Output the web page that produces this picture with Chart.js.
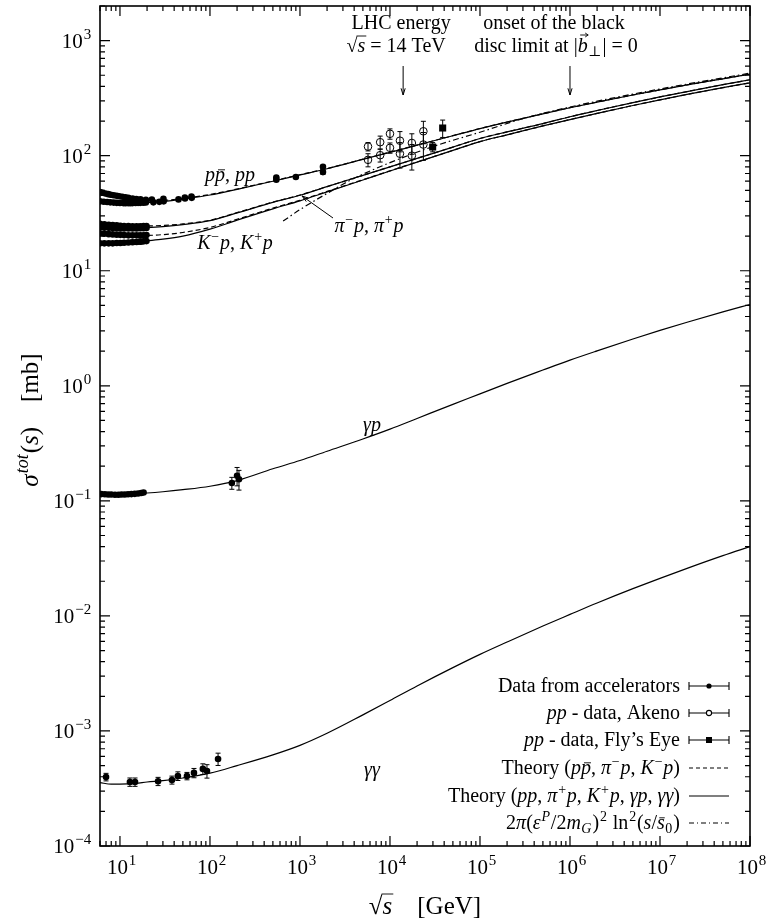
<!DOCTYPE html>
<html>
<head>
<meta charset="utf-8">
<script src="https://cdn.jsdelivr.net/npm/chart.js@4.4.1/dist/chart.umd.min.js"></script>
<style>
  html, body { margin: 0; padding: 0; background: #fff; }
</style>
</head>
<body>
<canvas id="chart" width="779" height="922"></canvas>
<script>
const energies = [6, 8, 10, 15, 20, 30, 50, 100, 200, 500, 1e3, 2e3, 5e3, 1e4, 2e4, 5e4, 1e5, 2e5, 5e5, 1e6, 2e6, 5e6, 1e7, 2e7, 5e7, 1e8];
const ppTheory      = [40, 39.5, 39, 38.8, 39, 40, 42, 45.5, 51, 60, 68, 77, 92.9, 107, 123.4, 149, 172, 196, 231, 261, 292, 337, 373, 412, 466, 511];
const ppbarTheory   = [48, 45.5, 43.5, 41.5, 41, 41, 42.5, 46, 51.3, 60.3, 68.3, 77.3, 93.2, 107.3, 123.7, 149.3, 172.3, 196.3, 231.3, 261.3, 292.3, 337.3, 373.3, 412.3, 466.3, 511.3];
const piMinusTheory = [25.5, 25, 24.8, 24.5, 24.5, 24.8, 25.5, 27.5, 32, 39.5, 45.5, 53.9, 67.5, 80, 94.8, 118.7, 141, 161, 190, 218, 247, 289, 324, 361, 414, 457];
const piPlusTheory  = [23.5, 23.5, 23.5, 23.5, 23.7, 24.2, 25.2, 27.3, 31.8, 39.3, 45.3, 53.9, 67.5, 80, 94.8, 118.7, 141, 161, 190, 218, 247, 289, 324, 361, 414, 457];
const kMinusTheory  = [21, 20.5, 20.5, 20.3, 20.3, 20.6, 21.5, 23.8, 28, 35, 41, 48.9, 61.8, 73.8, 88.1, 111.2, 132.7, 151.8, 181.3, 206, 233, 273, 305.6, 340.6, 390, 430];
const kPlusTheory   = [17.5, 17.5, 17.6, 17.8, 18.2, 18.8, 20, 23, 27.5, 34.5, 40.5, 48.5, 61.5, 73.6, 88, 111.2, 132.7, 151.8, 181.3, 206, 233, 273, 305.6, 340.6, 390, 430];
const gpTheory = [0.115, 0.1145, 0.114, 0.1155, 0.117, 0.12, 0.125, 0.134, 0.15, 0.19, 0.224, 0.27, 0.345, 0.42, 0.52, 0.69, 0.85, 1.05, 1.37, 1.67, 2.01, 2.55, 3.03, 3.57, 4.39, 5.09];
const ggTheory = [3.55e-4, 3.45e-4, 3.45e-4, 3.5e-4, 3.6e-4, 3.7e-4, 3.9e-4, 4.3e-4, 5.0e-4, 6.2e-4, 7.5e-4, 9.55e-4, 1.38e-3, 1.84e-3, 2.46e-3, 3.55e-3, 4.63e-3, 5.93e-3, 8.17e-3, 1.03e-2, 1.295e-2, 1.725e-2, 2.12e-2, 2.59e-2, 3.34e-2, 4.0e-2];

// black disc limit 2pi(eps/2m_G)^2 ln^2(s/s0)
const discEnergies = [650, 1e3, 2e3, 3.6e3, 1e4, 3e4, 1e5, 3e5, 1e6, 1e7, 1e8];
const discLimit    = [27, 34, 47, 61, 87, 120, 160, 210, 265, 380, 522];

// accelerator data
const ppbarDataX = [6.0, 6.4, 6.9, 7.4, 7.9, 8.5, 9.2, 9.8, 10.6, 11.5, 12.4, 13.8, 15.2, 16.9, 19.4, 22.6, 30.4, 52.6, 62.3];
const ppbarDataY = [48.2, 47.6, 46.9, 46.3, 45.8, 45.3, 44.8, 44.4, 43.9, 43.4, 43.0, 42.4, 42.0, 41.7, 41.4, 41.6, 42.1, 43.3, 44.1];
const ppDataX = [6.0, 6.6, 7.2, 7.8, 8.5, 9.2, 10.0, 10.9, 11.5, 12.3, 13.0, 13.8, 14.9, 15.9, 16.8, 18.2, 19.4, 23.5, 27.4, 30.6, 44.7, 52.8, 62.7];
const ppDataY = [40.1, 39.8, 39.6, 39.3, 39.1, 38.9, 38.8, 38.7, 38.6, 38.7, 38.6, 38.7, 38.8, 38.9, 38.9, 39.0, 39.2, 39.3, 39.7, 40.1, 41.7, 42.4, 43.0];
const colliderX = [546, 546, 900, 1800, 1800];
const colliderY = [61.9, 64.5, 65.3, 72.0, 80.0];
const colliderErr = [1.5, 2.0, 0.7, 3.3, 2.3];
const mesonDataX = [6.0, 6.7, 7.5, 8.3, 9.2, 10.1, 11.1, 12.4, 13.8, 15.3, 16.8, 18.3, 19.7];
const piMinusDataY = [25.6, 25.3, 25.1, 24.9, 24.8, 24.6, 24.5, 24.4, 24.3, 24.3, 24.3, 24.4, 24.4];
const piPlusDataY  = [23.9, 23.7, 23.6, 23.5, 23.4, 23.3, 23.3, 23.3, 23.3, 23.3, 23.4, 23.4, 23.5];
const kMinusDataY  = [21.2, 21.0, 20.8, 20.7, 20.6, 20.5, 20.4, 20.3, 20.3, 20.3, 20.3, 20.3, 20.4];
const kPlusDataY   = [17.3, 17.3, 17.3, 17.3, 17.4, 17.4, 17.5, 17.6, 17.7, 17.8, 17.9, 18.0, 18.1];
const kPlusDataErr = [0, 0, 0, 0, 0, 0, 0, 0, 0.8, 0, 0.9, 0, 0];
const gpDataX = [6.2, 6.8, 7.4, 8.0, 8.8, 9.6, 10.4, 11.3, 12.3, 13.4, 14.6, 15.9, 17.2, 18.3, 175, 200, 210];
const gpDataY = [0.1145, 0.114, 0.1135, 0.1135, 0.113, 0.113, 0.1135, 0.1135, 0.114, 0.1145, 0.115, 0.116, 0.117, 0.118, 0.143, 0.165, 0.154];
const gpDataErr = [0, 0, 0, 0, 0, 0, 0, 0, 0, 0, 0, 0, 0, 0, 0.017, 0.03, 0.03];
const ggDataX = [7.0, 12.9, 14.7, 26.5, 37.8, 44, 55.5, 66.4, 83.4, 92.6, 123];
const ggDataY = [3.98e-4, 3.6e-4, 3.6e-4, 3.65e-4, 3.75e-4, 4.06e-4, 4.06e-4, 4.32e-4, 4.68e-4, 4.49e-4, 5.71e-4];
const ggDataErr = [0.3e-4, 0.3e-4, 0.3e-4, 0.3e-4, 0.3e-4, 0.35e-4, 0.3e-4, 0.4e-4, 0.5e-4, 0.6e-4, 0.7e-4];

// cosmic ray pp data
const akenoX = [5700, 5700, 7780, 7780, 1e4, 1e4, 1.29e4, 1.29e4, 1.75e4, 1.75e4, 2.35e4, 2.35e4];
const akenoY = [120, 92, 131, 101, 155, 117, 135, 104, 129, 100, 163, 125];
const akenoErr = [10, 12, 17, 13, 16, 12, 27, 26, 26, 25, 36, 34];
const flysEyeX = [29800, 38500];
const flysEyeY = [119, 174];
const flysEyeErr = [11, 30];

const lhcEnergy = 14000;
const blackDiscOnset = 1e6;

const xDecades = [1, 2, 3, 4, 5, 6, 7, 8];
const yDecades = [-4, -3, -2, -1, 0, 1, 2, 3];

const SERIF = '"Liberation Serif", "DejaVu Serif", serif';

function pts(xs, ys, errs) {
  return xs.map((x, i) => ({ x: x, y: ys[i], err: errs ? errs[i] : 0 }));
}

function curve(xs, ys, dash) {
  return {
    data: pts(xs, ys),
    borderColor: '#000',
    borderWidth: 1.2,
    borderDash: dash || [],
    pointRadius: 0,
    fill: false,
    cubicInterpolationMode: 'monotone',
  };
}

function markers(xs, ys, errs, style) {
  const ds = {
    data: pts(xs, ys, errs),
    showLine: false,
    pointRadius: 3.3,
    pointStyle: 'circle',
    backgroundColor: '#000',
    borderColor: '#000',
    borderWidth: 0,
    errorBars: true,
  };
  if (style === 'open') {
    ds.backgroundColor = 'rgba(0,0,0,0)';
    ds.borderWidth = 1;
    ds.pointRadius = 3.8;
  }
  if (style === 'square') {
    ds.pointStyle = 'rect';
    ds.pointRadius = 5;
  }
  return ds;
}

// rich text: parts = [[text, style]] with style r, i, sup, isup, sub, isub, ibar, iover, ivec
function fontFor(style, size) {
  const ital = style.charAt(0) === 'i' ? 'italic ' : '';
  const small = /sup|sub/.test(style);
  return ital + (small ? Math.round(size * 0.7) : size) + 'px ' + SERIF;
}

function drawRich(ctx, parts, x, y, align, size) {
  ctx.save();
  ctx.textAlign = 'left';
  ctx.textBaseline = 'alphabetic';
  ctx.fillStyle = '#000';
  ctx.strokeStyle = '#000';
  ctx.lineWidth = 0.9;
  const widths = parts.map(p => {
    ctx.font = fontFor(p[1], size);
    const pad = /sup|sub/.test(p[1]) ? size * 0.08 : 0;
    return ctx.measureText(p[0]).width + pad;
  });
  const total = widths.reduce((a, b) => a + b, 0);
  let cx = align === 'right' ? x - total : align === 'center' ? x - total / 2 : x;
  parts.forEach((p, i) => {
    const s = p[1];
    ctx.font = fontFor(s, size);
    let dy = 0;
    let dx = 0;
    if (s.indexOf('sup') >= 0) { dy = -size * 0.42; dx = size * 0.04; }
    if (s.indexOf('sub') >= 0) { dy = size * 0.22; dx = size * 0.02; }
    ctx.fillText(p[0], cx + dx, y + dy);
    const w = widths[i];
    if (s === 'ibar') {
      ctx.beginPath();
      ctx.moveTo(cx + w * 0.3, y - size * 0.56);
      ctx.lineTo(cx + w * 1.0, y - size * 0.56);
      ctx.stroke();
    }
    if (s === 'iover') {
      ctx.beginPath();
      ctx.moveTo(cx - 1, y - size * 0.8);
      ctx.lineTo(cx + w + 1, y - size * 0.8);
      ctx.stroke();
    }
    if (s === 'ivec') {
      const ay = y - size * 0.85;
      ctx.beginPath();
      ctx.moveTo(cx + w * 0.25, ay);
      ctx.lineTo(cx + w * 1.05, ay);
      ctx.moveTo(cx + w * 1.05 - 3, ay - 2);
      ctx.lineTo(cx + w * 1.05, ay);
      ctx.lineTo(cx + w * 1.05 - 3, ay + 2);
      ctx.stroke();
    }
    cx += w;
  });
  ctx.restore();
}

function arrow(ctx, x1, y1, x2, y2) {
  const a = Math.atan2(y2 - y1, x2 - x1);
  ctx.save();
  ctx.strokeStyle = '#000';
  ctx.lineWidth = 1;
  ctx.beginPath();
  ctx.moveTo(x1, y1);
  ctx.lineTo(x2, y2);
  ctx.moveTo(x2 - 7 * Math.cos(a - 0.3), y2 - 7 * Math.sin(a - 0.3));
  ctx.lineTo(x2, y2);
  ctx.lineTo(x2 - 7 * Math.cos(a + 0.3), y2 - 7 * Math.sin(a + 0.3));
  ctx.stroke();
  ctx.restore();
}

const errorBarPlugin = {
  id: 'errorBars',
  afterDatasetsDraw(chart) {
    const ctx = chart.ctx;
    const ys = chart.scales.y;
    ctx.save();
    ctx.strokeStyle = '#000';
    ctx.lineWidth = 1;
    chart.data.datasets.forEach((ds, di) => {
      if (!ds.errorBars) return;
      const meta = chart.getDatasetMeta(di);
      ds.data.forEach((d, i) => {
        if (!d.err) return;
        const px = meta.data[i].x;
        const top = ys.getPixelForValue(d.y + d.err);
        const bot = ys.getPixelForValue(d.y - d.err);
        ctx.beginPath();
        ctx.moveTo(px, top); ctx.lineTo(px, bot);
        ctx.moveTo(px - 2.5, top); ctx.lineTo(px + 2.5, top);
        ctx.moveTo(px - 2.5, bot); ctx.lineTo(px + 2.5, bot);
        ctx.stroke();
      });
    });
    ctx.restore();
  }
};

const framePlugin = {
  id: 'frame',
  afterDraw(chart) {
    const ctx = chart.ctx;
    const a = chart.chartArea;
    const xs = chart.scales.x;
    const ys = chart.scales.y;
    ctx.save();
    ctx.strokeStyle = '#000';
    ctx.lineWidth = 1.6;
    ctx.strokeRect(a.left, a.top, a.right - a.left, a.bottom - a.top);

    ctx.lineWidth = 1.2;
    ctx.beginPath();
    for (let e = 0; e <= 8; e++) {
      for (let k = 1; k <= 9; k++) {
        const v = k * Math.pow(10, e);
        if (v < xs.min || v > xs.max) continue;
        const px = xs.getPixelForValue(v);
        const len = k === 1 ? 10 : 5;
        ctx.moveTo(px, a.bottom); ctx.lineTo(px, a.bottom - len);
        ctx.moveTo(px, a.top); ctx.lineTo(px, a.top + len);
      }
    }
    for (let e = -4; e <= 3; e++) {
      for (let k = 1; k <= 9; k++) {
        const v = k * Math.pow(10, e);
        if (v < ys.min || v > ys.max) continue;
        const py = ys.getPixelForValue(v);
        const len = k === 1 ? 10 : 5;
        ctx.moveTo(a.left, py); ctx.lineTo(a.left + len, py);
        ctx.moveTo(a.right, py); ctx.lineTo(a.right - len, py);
      }
    }
    ctx.stroke();
    ctx.restore();

    // tick labels
    xDecades.forEach(e => {
      drawRich(ctx, [['10', 'r'], [String(e), 'sup']], xs.getPixelForValue(Math.pow(10, e)) + 2, a.bottom + 28, 'center', 21);
    });
    yDecades.forEach(e => {
      drawRich(ctx, [['10', 'r'], [(e < 0 ? '\u2212' : '') + Math.abs(e), 'sup']], a.left - 8, ys.getPixelForValue(Math.pow(10, e)) + 7, 'right', 21);
    });

    // axis titles
    drawRich(ctx, [['\u221A', 'r'], ['s', 'iover'], ['\u2003[GeV]', 'r']], (a.left + a.right) / 2, 914, 'center', 25);
    ctx.save();
    ctx.translate(38, 420);
    ctx.rotate(-Math.PI / 2);
    drawRich(ctx, [['\u03C3', 'i'], ['tot', 'isup'], ['(', 'r'], ['s', 'i'], [')\u2003[mb]', 'r']], 0, 0, 'center', 25);
    ctx.restore();

    // curve labels
    drawRich(ctx, [['p', 'i'], ['p', 'ibar'], [', ', 'r'], ['pp', 'i']], 230, 181, 'center', 20);
    drawRich(ctx, [['K', 'i'], ['\u2212', 'sup'], ['p', 'i'], [', ', 'r'], ['K', 'i'], ['+', 'sup'], ['p', 'i']], 235, 249, 'center', 20);
    drawRich(ctx, [['\u03C0', 'i'], ['\u2212', 'sup'], ['p', 'i'], [', ', 'r'], ['\u03C0', 'i'], ['+', 'sup'], ['p', 'i']], 369, 232, 'center', 20);
    arrow(ctx, 333, 218, 302, 196);
    drawRich(ctx, [['\u03B3p', 'i']], 372, 431, 'center', 20);
    drawRich(ctx, [['\u03B3\u03B3', 'i']], 372, 776, 'center', 20);

    // annotations
    const lhcX = xs.getPixelForValue(lhcEnergy);
    drawRich(ctx, [['LHC energy', 'r']], lhcX - 2, 29, 'center', 20);
    drawRich(ctx, [['\u221A', 'r'], ['s', 'iover'], [' = 14 TeV', 'r']], lhcX - 7, 52, 'center', 20);
    arrow(ctx, lhcX, 66, lhcX, 95);
    const bdX = xs.getPixelForValue(blackDiscOnset);
    drawRich(ctx, [['onset of the black', 'r']], bdX - 16, 29, 'center', 20);
    drawRich(ctx, [['disc limit at |', 'r'], ['b', 'ivec'], ['\u22A5', 'sub'], ['| = 0', 'r']], bdX - 14, 52, 'center', 20);
    arrow(ctx, bdX, 66, bdX, 95);

    // legend
    const rows = [
      { y: 686, text: [['Data from accelerators', 'r']], sym: 'dot' },
      { y: 713, text: [['pp', 'i'], [' - data, Akeno', 'r']], sym: 'open' },
      { y: 740, text: [['pp', 'i'], [' - data, Fly\u2019s Eye', 'r']], sym: 'square' },
      { y: 768, text: [['Theory (', 'r'], ['p', 'i'], ['p', 'ibar'], [', ', 'r'], ['\u03C0', 'i'], ['\u2212', 'sup'], ['p', 'i'], [', ', 'r'], ['K', 'i'], ['\u2212', 'sup'], ['p', 'i'], [')', 'r']], sym: 'dash' },
      { y: 796, text: [['Theory (', 'r'], ['pp', 'i'], [', ', 'r'], ['\u03C0', 'i'], ['+', 'sup'], ['p', 'i'], [', ', 'r'], ['K', 'i'], ['+', 'sup'], ['p', 'i'], [', ', 'r'], ['\u03B3p', 'i'], [', ', 'r'], ['\u03B3\u03B3', 'i'], [')', 'r']], sym: 'solid' },
      { y: 823, text: [['2', 'r'], ['\u03C0', 'i'], ['(', 'r'], ['\u03B5', 'i'], ['P', 'isup'], ['/2', 'r'], ['m', 'i'], ['G', 'isub'], [')', 'r'], ['2', 'sup'], [' ln', 'r'], ['2', 'sup'], ['(', 'r'], ['s', 'i'], ['/', 'r'], ['s', 'ibar'], ['0', 'sub'], [')', 'r']], sym: 'dashdot' },
    ];
    const x0 = 689, x1 = 729, xm = 709;
    rows.forEach(r => {
      drawRich(ctx, r.text, 680, r.y + 6, 'right', 20);
      ctx.save();
      ctx.strokeStyle = '#000';
      ctx.fillStyle = '#000';
      ctx.lineWidth = 1.1;
      ctx.beginPath();
      if (r.sym === 'dot' || r.sym === 'open' || r.sym === 'square') {
        ctx.moveTo(x0, r.y); ctx.lineTo(x1, r.y);
        ctx.moveTo(x0, r.y - 4); ctx.lineTo(x0, r.y + 4);
        ctx.moveTo(x1, r.y - 4); ctx.lineTo(x1, r.y + 4);
        ctx.stroke();
        ctx.beginPath();
        if (r.sym === 'dot') { ctx.arc(xm, r.y, 2.6, 0, Math.PI * 2); ctx.fill(); }
        if (r.sym === 'open') { ctx.fillStyle = '#fff'; ctx.arc(xm, r.y, 2.6, 0, Math.PI * 2); ctx.fill(); ctx.stroke(); }
        if (r.sym === 'square') { ctx.fillRect(xm - 3, r.y - 3, 6, 6); }
      } else {
        if (r.sym === 'dash') ctx.setLineDash([4, 3]);
        if (r.sym === 'dashdot') ctx.setLineDash([5, 3, 1, 3]);
        ctx.moveTo(x0, r.y); ctx.lineTo(x1, r.y);
        ctx.stroke();
      }
      ctx.restore();
    });
  }
};

new Chart(document.getElementById('chart'), {
  type: 'line',
  data: {
    datasets: [
      curve(energies, ppbarTheory, [5, 3]),
      curve(energies, ppTheory),
      curve(energies, piMinusTheory, [5, 3]),
      curve(energies, piPlusTheory),
      curve(energies, kMinusTheory, [5, 3]),
      curve(energies, kPlusTheory),
      curve(energies, gpTheory),
      curve(energies, ggTheory),
      curve(discEnergies, discLimit, [6, 3, 1.5, 3]),
      markers(ppbarDataX, ppbarDataY),
      markers(ppDataX, ppDataY),
      markers(colliderX, colliderY, colliderErr),
      markers(mesonDataX, piMinusDataY),
      markers(mesonDataX, piPlusDataY),
      markers(mesonDataX, kMinusDataY),
      markers(mesonDataX, kPlusDataY, kPlusDataErr),
      markers(gpDataX, gpDataY, gpDataErr),
      markers(ggDataX, ggDataY, ggDataErr),
      markers(akenoX, akenoY, akenoErr, 'open'),
      markers(flysEyeX, flysEyeY, flysEyeErr, 'square'),
    ],
  },
  options: {
    responsive: false,
    animation: false,
    devicePixelRatio: 1,
    layout: { padding: { top: 6, right: 29, left: 0, bottom: 0 } },
    plugins: {
      legend: { display: false },
      tooltip: { enabled: false },
    },
    scales: {
      x: {
        type: 'logarithmic',
        min: 6,
        max: 1e8,
        grid: { display: false },
        border: { display: false },
        ticks: { display: false },
        afterFit: s => { s.height = 76; },
      },
      y: {
        type: 'logarithmic',
        min: 1e-4,
        max: 2000,
        grid: { display: false },
        border: { display: false },
        ticks: { display: false },
        afterFit: s => { s.width = 100; },
      },
    },
  },
  plugins: [errorBarPlugin, framePlugin],
});
</script>
</body>
</html>
